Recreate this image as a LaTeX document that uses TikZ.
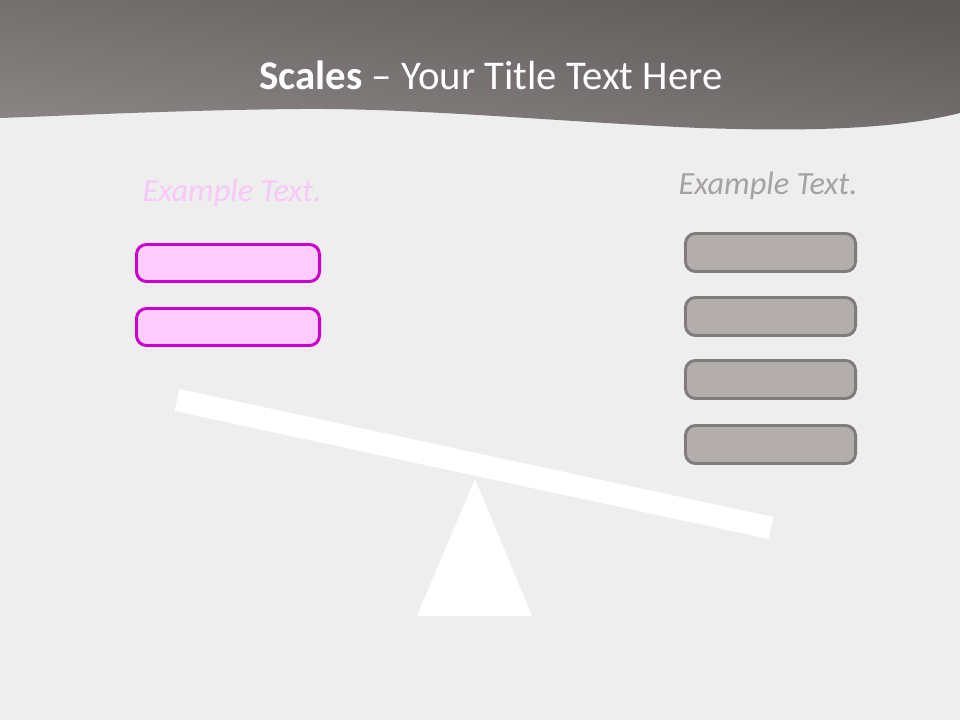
\documentclass[tikz,border=0pt]{standalone}
\usepackage{fontspec}
\setmainfont{Carlito}
\usepackage{xcolor}
\usepackage{tikz}
\usetikzlibrary{positioning,calc}
\definecolor{paper}{HTML}{EEEEEE}
\definecolor{headtop}{HTML}{5E5A59}
\definecolor{headbot}{HTML}{8A8584}
\definecolor{pinkfill}{HTML}{FFCCFF}
\definecolor{pinkline}{HTML}{CC00CC}
\definecolor{pinktext}{HTML}{F8C8F8}
\definecolor{greyfill}{HTML}{B3AEAD}
\definecolor{greyline}{HTML}{807C7C}
\definecolor{greytext}{HTML}{A6A2A1}
\tikzset{
  scheader/.style={top color=headtop, bottom color=headbot, shading angle=-8, draw=none},
  sctitle/.style={text=white, font=\fontsize{29}{34}\selectfont, inner sep=0pt},
  sclabel/.style={font=\fontsize{23}{27}\selectfont\itshape, inner sep=0pt},
  pinkbox/.style={
    rectangle, rounded corners=2.5mm, draw=pinkline, fill=pinkfill, line width=2.1pt,
    minimum width=4.575cm, minimum height=0.925cm, inner sep=0pt
  },
  greybox/.style={
    rectangle, rounded corners=2.5mm, draw=greyline, fill=greyfill, line width=2.1pt,
    minimum width=4.25cm, minimum height=0.95cm, inner sep=0pt
  },
  scbeam/.style={white, line width=16pt, line cap=butt},
  scfulcrum/.style={fill=white, draw=none}
}

\begin{document}
\begin{tikzpicture}[x=0.025cm,y=-0.025cm]
  \useasboundingbox (0,0) rectangle (960,720);
  \fill[paper] (0,0) rectangle (960,720);
  % header band
  \shade[scheader] (0,0) -- (960,0) -- (960,113)
    .. controls (900,128) and (820,132) .. (700,128)
    .. controls (560,122) and (420,108) .. (300,109)
    .. controls (180,110) and (60,116) .. (0,118) -- cycle;
  \node[sctitle] (title) at (491,75) {\textbf{Scales} -- Your Title Text Here};
  % left pan
  \node[sclabel,text=pinktext] (lefttext) at (232,193) {Example Text.};
  \node[pinkbox] (left1) at (228,263) {};
  \node[pinkbox] (left2) at (228,327) {};
  % right pan
  \node[sclabel,text=greytext] (righttext) at (768,186) {Example Text.};
  \node[greybox] (right1) at (770.5,252.5) {};
  \node[greybox] (right2) at (770.5,316.5) {};
  \node[greybox] (right3) at (770.5,379.5) {};
  \node[greybox] (right4) at (770.5,444.5) {};
  % beam and fulcrum
  \coordinate (beamL) at (177,400);
  \coordinate (beamR) at (771,528);
  \draw[scbeam] (beamL) -- (beamR);
  \coordinate (apex) at (475,479);
  \coordinate (baseL) at (417,616);
  \coordinate (baseR) at (532,616);
  \fill[scfulcrum] (apex) -- (baseL) -- (baseR) -- cycle;
\end{tikzpicture}
\end{document}
